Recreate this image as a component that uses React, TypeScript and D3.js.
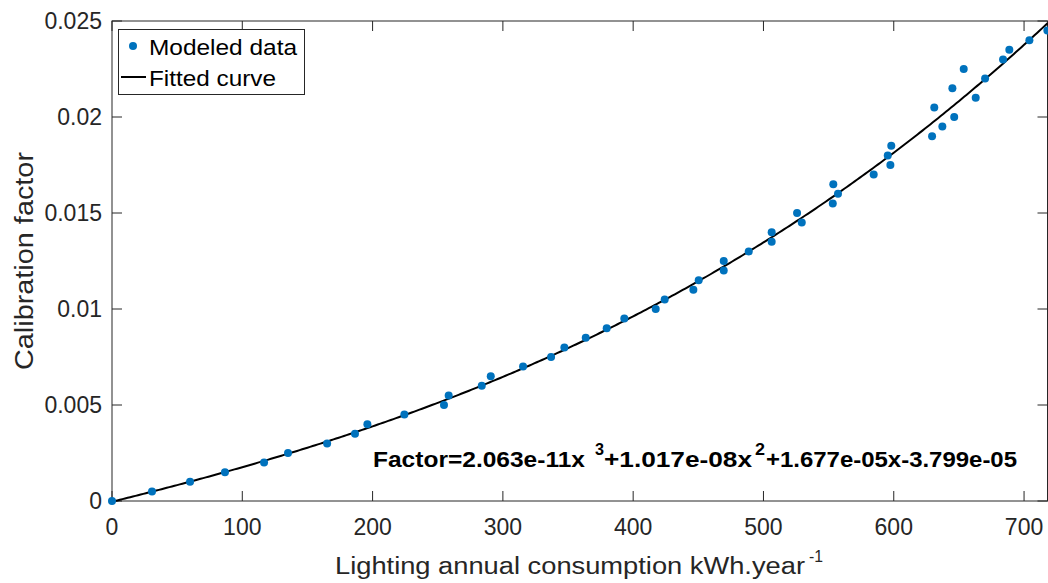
import React from "react";
import * as d3 from "d3";

const modeledX = [0, 30.7, 59.9, 86.7, 116.7, 135.1, 165.1, 186.5, 196, 224.4, 254.8, 258.4, 283.8, 290.7, 315.5, 337, 347.2, 363.6, 379.7, 393.2, 417.3, 424.2, 446.2, 450.3, 469.5, 469.5, 488.7, 506.3, 506.3, 529.4, 525.8, 553.2, 557.2, 553.6, 584.6, 597.4, 595.4, 598.1, 629.4, 637.3, 646.4, 631.1, 662.9, 645, 670.1, 653.7, 683.9, 688.7, 704.1, 717.9];
const modeledY = [0, 0.0005, 0.001, 0.0015, 0.002, 0.0025, 0.003, 0.0035, 0.004, 0.0045, 0.005, 0.0055, 0.006, 0.0065, 0.007, 0.0075, 0.008, 0.0085, 0.009, 0.0095, 0.01, 0.0105, 0.011, 0.0115, 0.012, 0.0125, 0.013, 0.0135, 0.014, 0.0145, 0.015, 0.0155, 0.016, 0.0165, 0.017, 0.0175, 0.018, 0.0185, 0.019, 0.0195, 0.02, 0.0205, 0.021, 0.0215, 0.022, 0.0225, 0.023, 0.0235, 0.024, 0.0245];
// cubic fit coefficients (x^3, x^2, x, 1) as printed on the chart
const fitCoefficients = [2.063e-11, 1.017e-8, 1.677e-5, -3.799e-5];
const xTicks = [0, 100, 200, 300, 400, 500, 600, 700];
const yTicks = [0, 0.005, 0.01, 0.015, 0.02, 0.025];
const yTickLabels = ["0", "0.005", "0.01", "0.015", "0.02", "0.025"];
const xDomain = [0, 718];
const yDomain = [0, 0.025];

const W = 1048, H = 583;
const L = 112, R = 1047.5, T = 21, B = 501;
const AX = "#262626";
const BLUE = "#0072BD";
const FONT = "'Liberation Sans', Arial, Helvetica, sans-serif";

export default function App() {
  const x = d3.scaleLinear().domain(xDomain).range([L, R]);
  const y = d3.scaleLinear().domain(yDomain).range([B, T]);
  const fit = (v: number) =>
    fitCoefficients[0] * v * v * v + fitCoefficients[1] * v * v + fitCoefficients[2] * v + fitCoefficients[3];
  const curveX = d3.range(xDomain[0], xDomain[1] + 0.001, 2);
  const line = d3.line<number>().x((d) => x(d)).y((d) => y(fit(d)));
  const tk = 10;
  const sa = "spacingAndGlyphs";
  return (
    <svg width={W} height={H} style={{ position: "absolute", left: 0, top: 0, display: "block", background: "#fff" }}>
      <rect x={0} y={0} width={W} height={H} fill="#fff" />
      <rect x={L} y={T} width={R - L} height={B - T} fill="none" stroke={AX} strokeWidth={1} />
      {xTicks.map((t) => (
        <g key={"xt" + t}>
          <line x1={x(t)} x2={x(t)} y1={B} y2={B - tk} stroke={AX} />
          <line x1={x(t)} x2={x(t)} y1={T} y2={T + tk} stroke={AX} />
          <text x={x(t)} y={535} textAnchor="middle" fontFamily={FONT} fontSize={23} fill={AX}>{t}</text>
        </g>
      ))}
      {yTicks.map((t, i) => (
        <g key={"yt" + t}>
          <line x1={L} x2={L + tk} y1={y(t)} y2={y(t)} stroke={AX} />
          <line x1={R} x2={R - tk} y1={y(t)} y2={y(t)} stroke={AX} />
          <text x={102} y={y(t) + 8} textAnchor="end" fontFamily={FONT} fontSize={23} fill={AX}>{yTickLabels[i]}</text>
        </g>
      ))}
      <path d={line(curveX) || ""} fill="none" stroke="#000" strokeWidth={2} />
      {modeledX.map((v, i) => (
        <circle key={"p" + i} cx={x(v)} cy={y(modeledY[i])} r={4} fill={BLUE} />
      ))}
      {/* axis labels */}
      <text x={335} y={574} fontFamily={FONT} fontSize={23.5} fill={AX} textLength={470} lengthAdjust={sa}>
        Lighting annual consumption kWh.year
      </text>
      <text x={809} y={562} fontFamily={FONT} fontSize={16} fill={AX} textLength={14} lengthAdjust={sa}>-1</text>
      <text transform={`translate(33,${(T + B) / 2}) rotate(-90)`} x={-109} fontFamily={FONT} fontSize={25} fill={AX} textLength={218} lengthAdjust={sa}>
        Calibration factor
      </text>
      {/* equation */}
      <g fontFamily={FONT} fontWeight="bold" fill="#000">
        <text x={373} y={467} fontSize={22} textLength={212} lengthAdjust={sa}>Factor=2.063e-11x</text>
        <text x={595} y={455} fontSize={16} textLength={9} lengthAdjust={sa}>3</text>
        <text x={604} y={467} fontSize={22} textLength={148} lengthAdjust={sa}>+1.017e-08x</text>
        <text x={755} y={455} fontSize={16} textLength={10} lengthAdjust={sa}>2</text>
        <text x={766} y={467} fontSize={22} textLength={251} lengthAdjust={sa}>+1.677e-05x-3.799e-05</text>
      </g>
      {/* legend */}
      <rect x={118.5} y={29.5} width={186} height={65} fill="#fff" stroke={AX} strokeWidth={1} />
      <circle cx={133} cy={46} r={4} fill={BLUE} />
      <text x={149} y={55} fontFamily={FONT} fontSize={22} fill="#000" textLength={148} lengthAdjust={sa}>Modeled data</text>
      <line x1={121} x2={146} y1={77} y2={77} stroke="#000" strokeWidth={2} />
      <text x={149} y={86} fontFamily={FONT} fontSize={22} fill="#000" textLength={127} lengthAdjust={sa}>Fitted curve</text>
    </svg>
  );
}
